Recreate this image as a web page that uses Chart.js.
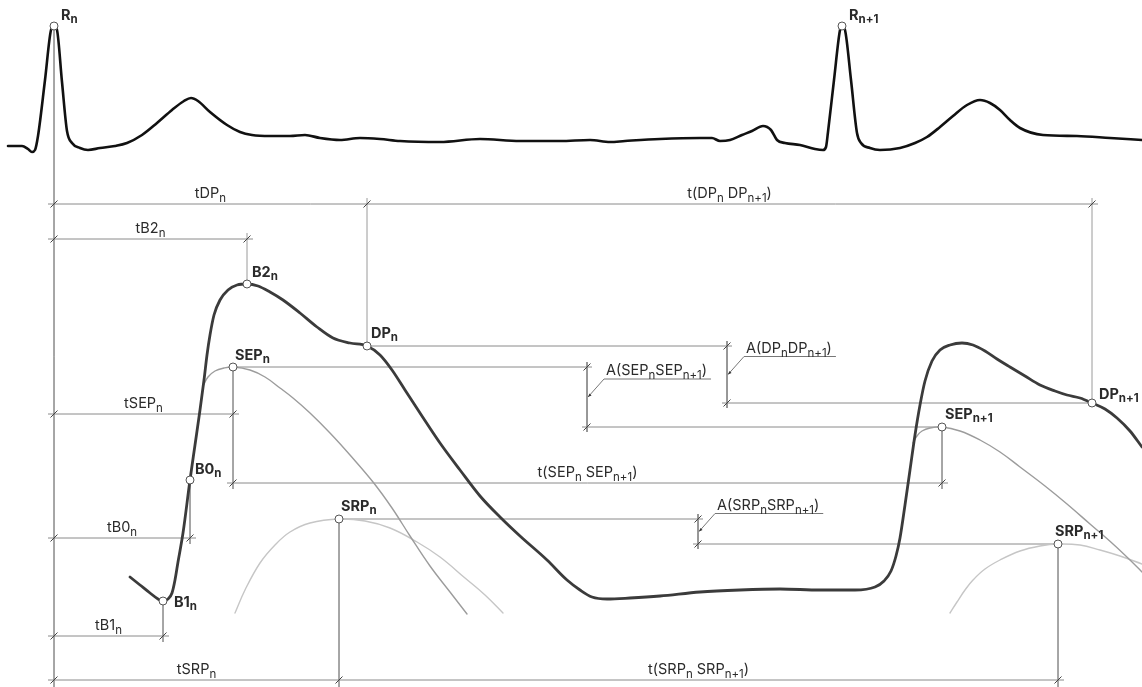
<!DOCTYPE html>
<html><head><meta charset="utf-8">
<script src="https://cdn.jsdelivr.net/npm/chart.js@4/dist/chart.umd.min.js"></script>
<style>html,body{margin:0;padding:0;background:#fff}#wrap{width:1142px;height:687px;position:relative}</style>
</head><body><div id="wrap"><canvas id="c"></canvas></div>
<script>
// ---- data (diagram coordinates: x = time axis, y = vertical position, top = 0) ----
const ECG = [[8,146],[22,146],[28,149],[32,152],[35,150],[38,136],[45,80],[51,30],[54,26],[57,30],[62,82],[67,131],[72,143],[80,148],[88,150],[100,148],[115,146],[127,143],[142,135],[157,123],[172,110],[184,101],[191,98],[198,101],[210,112],[227,125],[240,132],[252,135],[270,136],[290,136],[305,135],[320,138],[340,140],[360,138],[380,139],[400,141],[440,142],[480,139],[520,141],[560,141],[590,140],[610,142],[625,141],[660,139],[700,138],[712,138],[720,141],[730,140],[742,135],[752,131],[763,126],[771,130],[777,140],[785,143],[800,145],[815,149],[823,150],[826,147],[828,132],[834,80],[840,30],[842,26],[845,30],[851,80],[857,133],[861,143],[870,148],[880,150],[900,148],[915,143],[927,137],[940,127],[953,116],[967,105],[980,100],[990,103],[1000,110],[1010,120],[1020,128],[1043,135],[1077,136],[1110,138],[1142,140]];
const PRESSURE = [[130,577],[140,585],[150,593],[158,599],[163,601],[168,599],[172,593],[175,580],[178,562],[183,533],[190,480],[195,445],[200,410],[204,380],[207,355],[210,335],[214,315],[220,300],[228,290],[237,285],[247,284],[258,286],[270,292],[283,300],[300,313],[317,327],[333,338],[350,343],[367,346],[380,355],[392,370],[405,390],[420,413],[440,443],[460,470],[480,496],[500,517],[520,536],[547,560],[567,580],[580,590],[592,597],[607,599],[630,598],[660,596],[700,592],[740,590],[780,589],[820,590],[855,590],[875,587],[884,581],[891,571],[896,556],[900,538],[905,505],[910,470],[915,435],[920,405],[925,381],[932,361],[940,350],[950,345],[962,343],[973,345],[985,351],[997,359],[1010,367],[1025,376],[1040,385],[1055,391],[1067,395],[1080,398],[1092,403],[1105,409],[1117,418],[1130,431],[1142,447]];
const SEP_N = [[203,386],[208,377],[215,371],[224,368],[233,367],[250,370],[265,377],[280,388],[293,398],[310,413],[330,433],[350,455],[373,482],[392,508],[410,536],[430,566],[450,592],[467,614]];
const SEP_N1 = [[913,443],[917,436],[922,431],[930,428],[942,427],[960,431],[980,440],[1000,452],[1020,467],[1045,486],[1067,504],[1090,524],[1113,544],[1130,560],[1142,572]];
const SRP_N = [[235,613],[245,590],[260,563],[275,545],[290,532],[310,523],[339,519],[365,521],[390,528],[417,542],[440,557],[465,578],[485,595],[503,613]];
const SRP_N1 = [[950,613],[957,602],[965,590],[973,580],[985,569],[1000,560],[1020,551],[1040,546],[1058,544],[1080,545],[1100,550],[1120,556],[1142,564]];

// marked points
const POINTS = [[54,26],[842,26],[247,284],[367,346],[233,367],[190,480],[163,601],[339,519],[942,427],[1092,403],[1058,544]];
const POINT_NAMES = ["R_{n}","R_{n+1}","B2_{n}","DP_{n}","SEP_{n}","B0_{n}","B1_{n}","SRP_{n}","SEP_{n+1}","DP_{n+1}","SRP_{n+1}"];

// horizontal time dimensions: line level and stops
const H_DIM_Y = [204, 239, 414, 483, 538, 636, 680];
const H_DIM_STOPS = [[54,367,1092],[54,247],[54,233],[233,942],[54,190],[54,163],[54,339,1058]];
const H_DIM_LABELS = [["tDP_{n}","t(DP_{n} DP_{n+1})"],["tB2_{n}"],["tSEP_{n}"],["t(SEP_{n} SEP_{n+1})"],["tB0_{n}"],["tB1_{n}"],["tSRP_{n}","t(SRP_{n} SRP_{n+1})"]];

// amplitude dimensions: x level, from point index, to point index
const V_DIM_X = [587, 727, 698];
const V_DIM_FROM = [4, 3, 7];
const V_DIM_TO = [8, 9, 10];
const V_DIM_LABELS = ["A(SEP_{n}SEP_{n+1})","A(DP_{n}DP_{n+1})","A(SRP_{n}SRP_{n+1})"];

// extension lines: point index -> level reached
const EXT_POINT = [0, 2, 3, 9, 4, 8, 5, 6, 7, 10];
const EXT_TO = [687, 233, 198, 198, 489, 489, 544, 642, 687, 687];

// ---- styles (not data) ----
const LABEL_OFFSETS = [[7,-6],[7,-6],[5,-7],[4,-8],[2,-7],[5,-6],[11,6],[2,-8],[3,-8],[7,-4],[-3,-8]];
const FONT = 'Inter, "Noto Sans", Roboto, sans-serif';

const xy = a => a.map(p => ({x:p[0], y:p[1]}));
const datasets = [];
datasets.push({data: xy(POINTS), showLine:false, pointRadius:4, pointHoverRadius:4, pointBackgroundColor:'#fff', pointBorderColor:'#555', pointBorderWidth:1, order:0});
function curve(arr, color, w, mode){
  datasets.push({data: xy(arr), showLine:true, borderColor:color, borderWidth:w, pointRadius:0, pointHoverRadius:0, cubicInterpolationMode: mode||'default', tension:0.4, order:1, borderCapStyle:'round', borderJoinStyle:'round'});
}
curve(ECG, '#111', 2.6, 'monotone');
curve(PRESSURE, '#3b3b3b', 2.8, 'monotone');
curve(SEP_N, '#9c9c9c', 1.4);
curve(SEP_N1, '#9c9c9c', 1.4);
curve(SRP_N, '#c6c6c6', 1.4);
curve(SRP_N1, '#c6c6c6', 1.4);
function seg(x1,y1,x2,y2,color){
  datasets.push({data:[{x:x1,y:y1},{x:x2,y:y2}], showLine:true, borderColor:color||'#8a8a8a', borderWidth:1, pointRadius:0, pointHoverRadius:0, tension:0, order:5});
}
H_DIM_Y.forEach((y,i)=>{ const s=H_DIM_STOPS[i]; seg(s[0]-6,y,s[s.length-1]+6,y); });
V_DIM_X.forEach((x,i)=>{
  const a=POINTS[V_DIM_FROM[i]], b=POINTS[V_DIM_TO[i]];
  seg(a[0],a[1],x+5,a[1]);
  seg(x-5,b[1],b[0],b[1]);
  seg(x,a[1]-5,x,b[1]+5);
});
EXT_POINT.forEach((pi,i)=>{ const p=POINTS[pi]; seg(p[0],p[1],p[0],EXT_TO[i],'#9a9a9a'); });

function parse(s){ const out=[]; const re=/_\{([^}]*)\}/g; let last=0,m; while((m=re.exec(s))){ if(m.index>last) out.push({t:s.slice(last,m.index),sub:false}); out.push({t:m[1],sub:true}); last=re.lastIndex;} if(last<s.length) out.push({t:s.slice(last),sub:false}); return out; }
function richWidth(ctx,s,size,sub,weight){ let w=0; parse(s).forEach(g=>{ ctx.font=weight+' '+(g.sub?sub:size)+'px '+FONT; w+=ctx.measureText(g.t).width; }); return w; }
function drawRich(ctx,s,x,y,o){
  const w=richWidth(ctx,s,o.size,o.sub,o.weight);
  let cx = o.align==='center'? x-w/2 : x;
  ctx.fillStyle=o.color; ctx.textBaseline='alphabetic'; ctx.textAlign='left';
  parse(s).forEach(g=>{ ctx.font=o.weight+' '+(g.sub?o.sub:o.size)+'px '+FONT; ctx.fillText(g.t,cx,y+(g.sub?o.drop:0)); cx+=ctx.measureText(g.t).width; });
  return w;
}

const DIM_SIZE = 14.5, DIM_SUB = 11.5;
const annot = {
  id:'annot',
  afterDatasetsDraw(chart){
    const ctx=chart.ctx, sx=chart.scales.x, sy=chart.scales.y;
    const X=v=>sx.getPixelForValue(v), Y=v=>sy.getPixelForValue(v);
    ctx.save();
    const tick=(x,y)=>{ ctx.beginPath(); ctx.moveTo(x-3.5,y+3.5); ctx.lineTo(x+3.5,y-3.5); ctx.strokeStyle='#444'; ctx.lineWidth=1; ctx.stroke(); };
    const dimFont={size:DIM_SIZE,sub:DIM_SUB,weight:'400',color:'#2b2b2b',drop:4};
    H_DIM_Y.forEach((y,i)=>{
      const s=H_DIM_STOPS[i];
      s.forEach(x=>tick(X(x),Y(y)));
      H_DIM_LABELS[i].forEach((lab,j)=>{ drawRich(ctx,lab,(X(s[j])+X(s[j+1]))/2,Y(y)-6,Object.assign({align:'center'},dimFont)); });
    });
    V_DIM_X.forEach((x,i)=>{
      const a=POINTS[V_DIM_FROM[i]], b=POINTS[V_DIM_TO[i]];
      const px=X(x), ya=Y(a[1]), yb=Y(b[1]), ym=(ya+yb)/2;
      tick(px,ya); tick(px,yb);
      const ux=px+17, uy=ym-18;
      const w=richWidth(ctx,V_DIM_LABELS[i],DIM_SIZE,DIM_SUB,'400');
      ctx.strokeStyle='#777'; ctx.lineWidth=1;
      ctx.beginPath(); ctx.moveTo(px+1,ym); ctx.lineTo(ux,uy); ctx.lineTo(ux+w+6,uy); ctx.stroke();
      ctx.beginPath(); ctx.moveTo(px+1,ym); ctx.lineTo(px+4.5,ym-1.5); ctx.lineTo(px+2.5,ym-3.5); ctx.closePath(); ctx.fillStyle='#333'; ctx.fill();
      drawRich(ctx,V_DIM_LABELS[i],ux+2,uy-4,Object.assign({align:'left'},dimFont));
    });
    POINTS.forEach((p,i)=>{
      const o=LABEL_OFFSETS[i];
      drawRich(ctx,POINT_NAMES[i],X(p[0])+o[0],Y(p[1])+o[1],{align:'left',size:14.5,sub:11.5,weight:'700',color:'#2a2a2a',drop:3});
    });
    ctx.restore();
  }
};

new Chart(document.getElementById('c'), {
  type:'scatter',
  data:{datasets},
  options:{
    animation:false, responsive:true, maintainAspectRatio:false, events:[],
    layout:{padding:0, autoPadding:false},
    plugins:{legend:{display:false}, tooltip:{enabled:false}},
    scales:{
      x:{type:'linear',min:0,max:1142,display:false},
      y:{type:'linear',min:0,max:687,reverse:true,display:false}
    }
  },
  plugins:[annot]
});
</script></body></html>
